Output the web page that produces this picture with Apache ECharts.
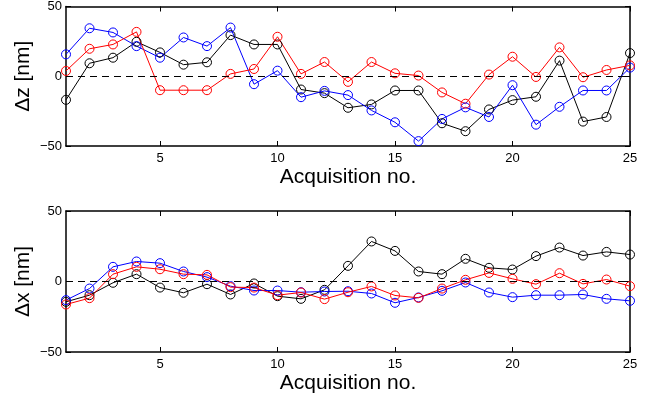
<!DOCTYPE html>
<html>
<head>
<meta charset="utf-8">
<script src="https://cdn.jsdelivr.net/npm/echarts@6/dist/echarts.min.js"></script>
<style>
  html, body { margin: 0; padding: 0; background: #fff; }
  #chart { width: 649px; height: 397px; }
</style>
</head>
<body>
<div id="chart"></div>
<script>
// acquisition numbers
var acq = [1, 2, 3, 4, 5, 6, 7, 8, 9, 10, 11, 12, 13, 14, 15, 16, 17, 18, 19, 20, 21, 22, 23, 24, 25];
var xTicks = [5, 10, 15, 20, 25];

// delta z [nm]
var dzBlue = [15.7, 34.4, 31.4, 21.6, 13.3, 27.8, 21.6, 34.9, -5.7, 4.0, -15, -10.5, -13.5, -24.5, -33, -46.5, -30.6, -22.3, -29.2, -6.4, -34.7, -21.9, -10.2, -10.2, 6.2];
var dzRed = [3.8, 19.7, 22.8, 31.8, -10, -10, -10, 1.7, 5.2, 28.3, 1.7, 10.2, -4, 10.2, 2.1, 0.5, -11.6, -19.7, 1.2, 14, -0.5, 20.7, -0.7, 4.5, 7.8];
var dzBlack = [-16.9, 9.3, 13.3, 24.7, 17.1, 8.3, 10, 29.5, 22.8, 22.8, -9.5, -12.1, -22.6, -20.2, -10.2, -10.2, -33.7, -39.4, -23.8, -17.1, -14.7, 11.2, -32.5, -29.2, 16.6];

// delta x [nm]
var dxBlue = [-13.2, -5, 10.4, 14.2, 13, 7.1, 3.1, -3.3, -6.4, -6.4, -7.6, -7.1, -6.9, -8.5, -15.1, -11.3, -6.6, -0.7, -7.8, -11.1, -9.7, -9.7, -9.2, -12.3, -13.7];
var dxRed = [-16.3, -11.8, 5.2, 10.4, 8.7, 5.2, 4.7, -4, -4.3, -9.7, -7.8, -12.5, -7.6, -3.5, -9.9, -11.6, -5, 1.2, 6.1, 1.9, -1.9, 5.9, -1.7, 1.4, -3.3];
var dxBlack = [-14.4, -9.7, -0.9, 5.2, -4.3, -8, -1.9, -9.2, -1.4, -10.4, -12.3, -5.9, 11.1, 28.4, 21.7, 7.1, 5.2, 16.1, 9.7, 8.5, 18, 24.1, 18.4, 21, 19.1];

function pairs(vals) {
  var out = [];
  for (var i = 0; i < acq.length; i++) {
    out.push([acq[i], vals[i]]);
  }
  return out;
}

var font = "Liberation Sans";
var frame = { show: true, onZero: false, lineStyle: { color: "#000", width: 1.5 } };
var tick = { show: true, inside: true, length: 5, lineStyle: { color: "#000", width: 1 } };

function xAxisFor(gi, isMain) {
  return {
    type: "value",
    gridIndex: gi,
    position: isMain ? "bottom" : "top",
    min: 1,
    max: 25,
    splitLine: { show: false },
    axisLine: frame,
    axisTick: Object.assign({}, tick, { customValues: xTicks }),
    axisLabel: {
      show: isMain,
      customValues: xTicks,
      color: "#000",
      fontFamily: font,
      fontSize: 13,
      margin: 6,
    },
    name: isMain ? "Acquisition no." : "",
    nameLocation: "middle",
    nameGap: 21,
    nameMoveOverlap: false,
    nameTextStyle: { color: "#000", fontFamily: font, fontSize: 21 },
  };
}

function yAxisFor(gi, isMain, label) {
  return {
    type: "value",
    gridIndex: gi,
    position: isMain ? "left" : "right",
    min: -50,
    max: 50,
    interval: 50,
    splitLine: { show: false },
    axisLine: frame,
    axisTick: tick,
    axisLabel: {
      show: isMain,
      color: "#000",
      fontFamily: font,
      fontSize: 13,
      margin: 4,
      formatter: function (v) { return v < 0 ? "\u2212" + Math.abs(v) : String(v); },
    },
    name: isMain ? label : "",
    nameLocation: "middle",
    nameGap: 32,
    nameRotate: 90,
    nameMoveOverlap: false,
    nameTextStyle: { color: "#000", fontFamily: font, fontSize: 21 },
  };
}

function line(vals, color, axisIdx, withZero) {
  var s = {
    type: "line",
    xAxisIndex: axisIdx,
    yAxisIndex: axisIdx,
    data: pairs(vals),
    symbol: "circle",
    symbolSize: 9,
    showAllSymbol: true,
    lineStyle: { color: color, width: 1 },
    itemStyle: { color: "rgba(0,0,0,0)", borderColor: color, borderWidth: 1 },
    emphasis: { disabled: true },
    z: 3,
  };
  if (withZero) {
    s.markLine = {
      silent: true,
      symbol: "none",
      label: { show: false },
      lineStyle: { color: "#000", type: [7, 5], width: 1 },
      data: [{ yAxis: 0 }],
    };
  }
  return s;
}

var myChart = echarts.init(document.getElementById("chart"), null, { renderer: "canvas" });
var option = {
  animation: false,
  backgroundColor: "#fff",
  grid: [
    { left: 66, right: 19, top: 6, height: 140 },
    { left: 66, right: 19, top: 211, height: 141 },
  ],
  xAxis: [xAxisFor(0, true), xAxisFor(1, true), xAxisFor(0, false), xAxisFor(1, false)],
  yAxis: [yAxisFor(0, true, "\u0394z [nm]"), yAxisFor(1, true, "\u0394x [nm]"), yAxisFor(0, false), yAxisFor(1, false)],
  series: [
    line(dzBlack, "#000", 0, true),
    line(dzBlue, "#0000ff", 0, false),
    line(dzRed, "#ff0000", 0, false),
    line(dxBlack, "#000", 1, true),
    line(dxBlue, "#0000ff", 1, false),
    line(dxRed, "#ff0000", 1, false),
  ],
};
myChart.setOption(option);
</script>
</body>
</html>
